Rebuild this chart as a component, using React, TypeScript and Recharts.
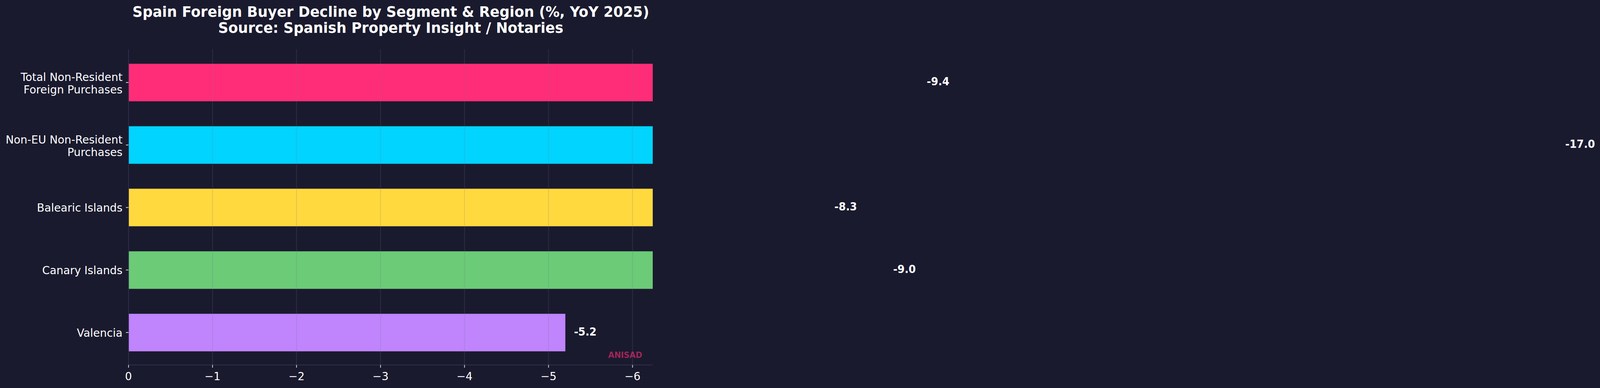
import React from "react";
import {
  BarChart,
  Bar,
  XAxis,
  YAxis,
  Cell,
  ReferenceLine,
  ReferenceDot,
} from "recharts";

const categories = [
  "Total Non-Resident\nForeign Purchases",
  "Non-EU Non-Resident\nPurchases",
  "Balearic Islands",
  "Canary Islands",
  "Valencia",
];
const declines = [-9.4, -17.0, -8.3, -9.0, -5.2];
const xTicks = [0, -1, -2, -3, -4, -5, -6];
const xDomain = [-6.24, 0];

const barColors = ["#ff2d78", "#00d4ff", "#ffd93d", "#6bcb77", "#c084fc"];

const data = categories.map((name, i) => ({ name, value: declines[i] }));

const W = 4258;
const H = 992;
const BG = "#1a1a2e";
const SPINE = "#2e2e50";
const FONT = "'DejaVu Sans', sans-serif";

const YTick = (props: any) => {
  const { x, y, payload } = props;
  const lines = String(payload.value).split("\n");
  const first = lines.length === 1 ? 10.5 : -3.5;
  return (
    <text x={x} y={y} textAnchor="end" fill="#ffffff" fontSize={29} fontFamily={FONT}>
      {lines.map((l, i) => (
        <tspan key={i} x={x} y={y + first + i * 32}>
          {l}
        </tspan>
      ))}
    </text>
  );
};

const fmtX = (v: number) => (v === 0 ? "0" : "\u2212" + Math.abs(v));

export default function App() {
  const vw = typeof window !== "undefined" ? window.innerWidth : W;
  const vh = typeof window !== "undefined" ? window.innerHeight : H;
  const sx = Math.min(1, vw / W);
  const sy = Math.min(1, vh / H);
  return (
    <>
      <style>{`html,body{margin:0;padding:0;background:${BG};overflow:hidden;}`}</style>
      <div
        style={{
          position: "absolute",
          left: 0,
          top: 0,
          width: W,
          height: H,
          background: BG,
          overflow: "hidden",
          fontFamily: FONT,
          transform: `scale(${sx}, ${sy})`,
          transformOrigin: "0 0",
        }}
      >
        <BarChart
          width={W}
          height={H}
          data={data}
          layout="vertical"
          margin={{ top: 126, right: 2521, bottom: 0, left: 0 }}
          barCategoryGap={0}
        >
          <XAxis
            type="number"
            dataKey="value"
            domain={xDomain}
            reversed
            allowDataOverflow
            ticks={xTicks}
            tickFormatter={fmtX}
            height={59}
            tickSize={7}
            tickMargin={11}
            tickLine={{ stroke: "#d0d0d0", strokeWidth: 2 }}
            axisLine={{ stroke: SPINE, strokeWidth: 2 }}
            tick={{ fill: "#ffffff", fontSize: 29, fontFamily: FONT }}
            interval={0}
          />
          <XAxis
            xAxisId="top"
            orientation="top"
            type="number"
            domain={xDomain}
            reversed
            allowDataOverflow
            height={0}
            tick={false}
            tickLine={false}
            axisLine={{ stroke: SPINE, strokeWidth: 2 }}
          />
          <YAxis
            type="category"
            dataKey="name"
            width={342}
            padding={{ top: 5, bottom: 3 }}
            tickSize={7}
            tickMargin={9}
            tickLine={{ stroke: "#d0d0d0", strokeWidth: 2 }}
            axisLine={{ stroke: SPINE, strokeWidth: 2 }}
            tick={<YTick />}
            interval={0}
          />
          <YAxis
            yAxisId="right"
            orientation="right"
            type="category"
            dataKey="name"
            width={0}
            tick={false}
            tickLine={false}
            axisLine={{ stroke: SPINE, strokeWidth: 2 }}
          />
          <Bar dataKey="value" barSize={96} isAnimationActive={false}>
            {data.map((d, i) => (
              <Cell key={d.name} fill={barColors[i]} />
            ))}
          </Bar>
          {xTicks.map((t) => (
            <ReferenceLine
              key={"g" + t}
              x={t}
              stroke="#707090"
              strokeOpacity={0.22}
              strokeWidth={2}
            />
          ))}
          {data.map((d) => (
            <ReferenceDot
              key={"l" + d.name}
              x={d.value}
              y={d.name}
              r={0}
              ifOverflow="visible"
              shape={(p: any) => (
                <text
                  x={p.cx + 23}
                  y={p.cy + 7.5}
                  fill="#ffffff"
                  fontSize={27.5}
                  fontWeight="bold"
                  fontFamily={FONT}
                  textAnchor="start"
                >
                  {d.value.toFixed(1)}
                </text>
              )}
            />
          ))}
        </BarChart>
        <svg
          width={W}
          height={H}
          style={{ position: "absolute", left: 0, top: 0, pointerEvents: "none" }}
        >
          <text
            x={1040}
            y={43}
            textAnchor="middle"
            fill="#ffffff"
            fontSize={37.5}
            fontWeight="bold"
            fontFamily={FONT}
          >
            Spain Foreign Buyer Decline by Segment &amp; Region (%, YoY 2025)
          </text>
          <text
            x={1040}
            y={84}
            textAnchor="middle"
            fill="#ffffff"
            fontSize={37.5}
            fontWeight="bold"
            fontFamily={FONT}
          >
            Source: Spanish Property Insight / Notaries
          </text>
          <text
            x={1709}
            y={915}
            textAnchor="end"
            fill="#ff2d78"
            fillOpacity={0.6}
            fontSize={21}
            fontWeight="bold"
            fontFamily={FONT}
          >
            ANISAD
          </text>
        </svg>
      </div>
    </>
  );
}
